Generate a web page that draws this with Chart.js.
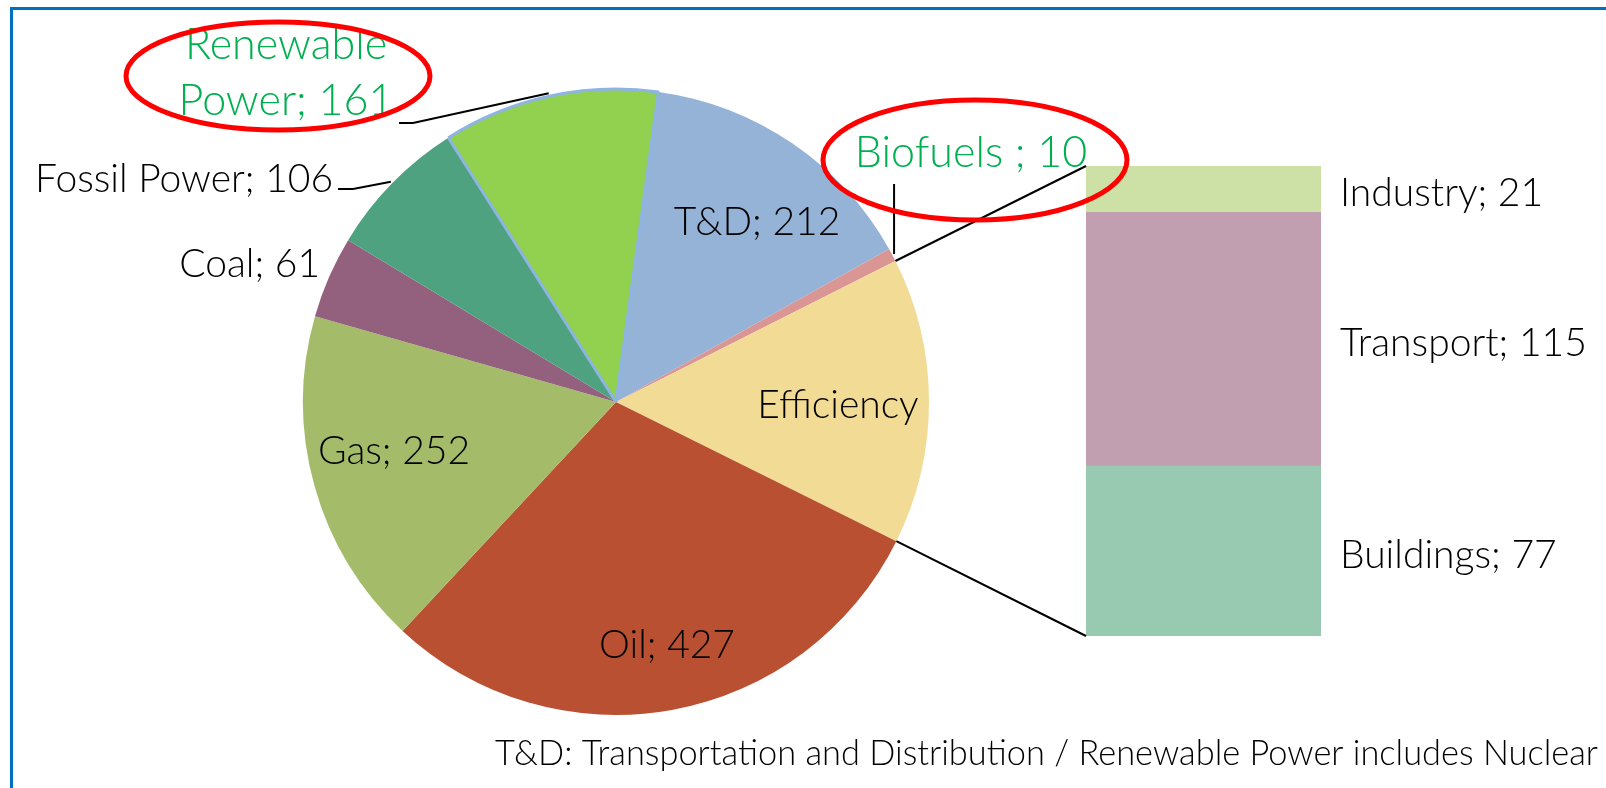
<!DOCTYPE html>
<html lang="en">
<head>
<meta charset="UTF-8">
<title>Energy savings by source</title>
<style>
  html, body { margin: 0; padding: 0; background: #fff; }
  #wrap { position: relative; width: 1606px; height: 788px; overflow: hidden; }
  #barBox { position: absolute; left: 1086px; top: 166px; width: 235px; height: 470px; }
  #pieBox { position: absolute; left: 0; top: 0; width: 1606px; height: 788px; }
</style>
</head>
<body>
<div id="wrap">
  <div id="barBox"><canvas id="barChart"></canvas></div>
  <div id="pieBox"><canvas id="pieChart"></canvas></div>
</div>

<script src="https://cdn.jsdelivr.net/npm/chart.js"></script>
<script>
// pie slices, clockwise from the top
const pieLabels = ['T&D', 'Biofuels ', 'Efficiency', 'Oil', 'Gas', 'Coal', 'Fossil Power', 'Renewable Power'];
const pieValues = [212, 10, 0, 427, 252, 61, 106, 161];
const pieColors = ['#95B3D7', '#DA9694', '#F1DB95', '#BA5032', '#A4BC6A', '#93617D', '#4EA280', '#92D050'];

// the efficiency slice split out in the bar (bottom to top)
const barLabels = ['Buildings', 'Transport', 'Industry'];
const barValues = [77, 115, 21];
const barColors = ['#97CAB0', '#C19EB0', '#CDE0A6'];

const footnote = 'T&D: Transportation and Distribution / Renewable Power includes Nuclear';

const effTotal = barValues.reduce((a, b) => a + b, 0);
pieValues[pieLabels.indexOf('Efficiency')] = effTotal;

const FONT = 'Lato, "Open Sans", sans-serif';
const GREEN = '#00B050';

Chart.defaults.font.family = FONT;

const barChart = new Chart(document.getElementById('barChart'), {
  type: 'bar',
  data: {
    labels: ['Efficiency'],
    datasets: barLabels.map((name, i) => ({
      label: name,
      data: [barValues[i]],
      backgroundColor: barColors[i],
      borderWidth: 0,
      barPercentage: 1,
      categoryPercentage: 1
    }))
  },
  options: {
    responsive: true,
    maintainAspectRatio: false,
    animation: false,
    events: [],
    layout: { padding: 0 },
    plugins: { legend: { display: false }, tooltip: { enabled: false } },
    scales: {
      x: { display: false, stacked: true },
      y: { display: false, stacked: true, min: 0, max: effTotal }
    }
  }
});

const barBox = document.getElementById('barBox');

function ellipse(ctx, x, y, rx, ry) {
  ctx.save();
  ctx.strokeStyle = '#FF0000';
  ctx.lineWidth = 5;
  ctx.beginPath();
  ctx.ellipse(x, y, rx, ry, 0, 0, Math.PI * 2);
  ctx.stroke();
  ctx.restore();
}

// fitW: squeeze the text horizontally to this width
function text(ctx, str, x, y, align, color, size, fitW) {
  ctx.save();
  ctx.font = '300 ' + (size || 39) + 'px ' + FONT;
  ctx.fillStyle = color || '#000';
  ctx.textAlign = align || 'center';
  ctx.textBaseline = 'middle';
  if (fitW) {
    const w = ctx.measureText(str).width;
    ctx.translate(x, y);
    ctx.scale(fitW / w, 1);
    ctx.fillText(str, 0, 0);
  } else {
    ctx.fillText(str, x, y);
  }
  ctx.restore();
}

function line(ctx, pts) {
  ctx.save();
  ctx.strokeStyle = '#000';
  ctx.lineWidth = 2;
  ctx.beginPath();
  ctx.moveTo(pts[0][0], pts[0][1]);
  for (let k = 1; k < pts.length; k++) ctx.lineTo(pts[k][0], pts[k][1]);
  ctx.stroke();
  ctx.restore();
}

const overlay = {
  id: 'overlay',
  afterDraw(chart) {
    const ctx = chart.ctx;
    const arcs = chart.getDatasetMeta(0).data;
    const cx = arcs[0].x, cy = arcs[0].y, r = arcs[0].outerRadius;
    const at = (a, rr) => [cx + Math.cos(a) * rr, cy + Math.sin(a) * rr];
    const mid = i => (arcs[i].startAngle + arcs[i].endAngle) / 2;
    const val = name => pieValues[pieLabels.indexOf(name)];

    // outer frame
    ctx.save();
    ctx.strokeStyle = '#0070C0';
    ctx.lineWidth = 3;
    ctx.strokeRect(11.5, 8.5, 1800, 1000);
    ctx.restore();

    // connectors from the efficiency slice to the bar
    const eff = arcs[pieLabels.indexOf('Efficiency')];
    const top = barChart.getDatasetMeta(2).data[0];
    const bot = barChart.getDatasetMeta(0).data[0];
    const bx = barBox.offsetLeft + top.x - top.width / 2;
    line(ctx, [at(eff.startAngle, r), [bx, barBox.offsetTop + top.y]]);
    line(ctx, [at(eff.endAngle, r), [bx, barBox.offsetTop + bot.base]]);

    // leader lines
    const iRen = pieLabels.indexOf('Renewable Power');
    const iFos = pieLabels.indexOf('Fossil Power');
    const iBio = pieLabels.indexOf('Biofuels ');
    line(ctx, [at(mid(iRen), r + 3), [413, 123], [399, 123]]);
    line(ctx, [at(mid(iFos), r + 2), [353, 189], [338, 189]]);
    const pb = at(mid(iBio), r + 2);
    line(ctx, [pb, [pb[0], 184]]);

    // slice labels
    text(ctx, 'T&D; ' + val('T&D'), 757, 222);
    text(ctx, 'Efficiency', 838, 405);
    text(ctx, 'Oil; ' + val('Oil'), 667, 645);
    text(ctx, 'Gas; ' + val('Gas'), 394, 451);
    text(ctx, 'Coal; ' + val('Coal'), 320, 264, 'right');
    text(ctx, 'Fossil Power; ' + val('Fossil Power'), 333, 179, 'right');
    text(ctx, 'Renewable', 286, 45, 'center', GREEN, 43);
    text(ctx, 'Power; ' + val('Renewable Power'), 286, 101, 'center', GREEN, 43);
    text(ctx, 'Biofuels ; ' + val('Biofuels '), 971, 153, 'center', GREEN, 43);

    // bar labels
    barLabels.forEach((name, i) => {
      const el = barChart.getDatasetMeta(i).data[0];
      const x = barBox.offsetLeft + el.x + el.width / 2 + 19;
      const y = barBox.offsetTop + (el.y + el.base) / 2 + 4;
      text(ctx, name + '; ' + barValues[i], x, y, 'left');
    });

    // highlight ellipses
    ellipse(ctx, 278, 76, 152, 54);
    ellipse(ctx, 975, 160, 152, 60);

    text(ctx, footnote, 1598, 753, 'right', '#000', 36, 1103);
  }
};

new Chart(document.getElementById('pieChart'), {
  type: 'pie',
  data: {
    labels: pieLabels,
    datasets: [{
      data: pieValues,
      backgroundColor: pieColors,
      borderColor: pieLabels.map(n => n === 'Renewable Power' ? '#8DB4E2' : 'rgba(0,0,0,0)'),
      borderWidth: pieLabels.map(n => n === 'Renewable Power' ? 3 : 0)
    }]
  },
  options: {
    responsive: true,
    maintainAspectRatio: false,
    animation: false,
    events: [],
    rotation: 7.8,
    radius: 313,
    layout: { padding: { left: 300, right: 674, top: 88, bottom: 72 } },
    plugins: { legend: { display: false }, tooltip: { enabled: false } }
  },
  plugins: [overlay]
});
</script>
</body>
</html>
